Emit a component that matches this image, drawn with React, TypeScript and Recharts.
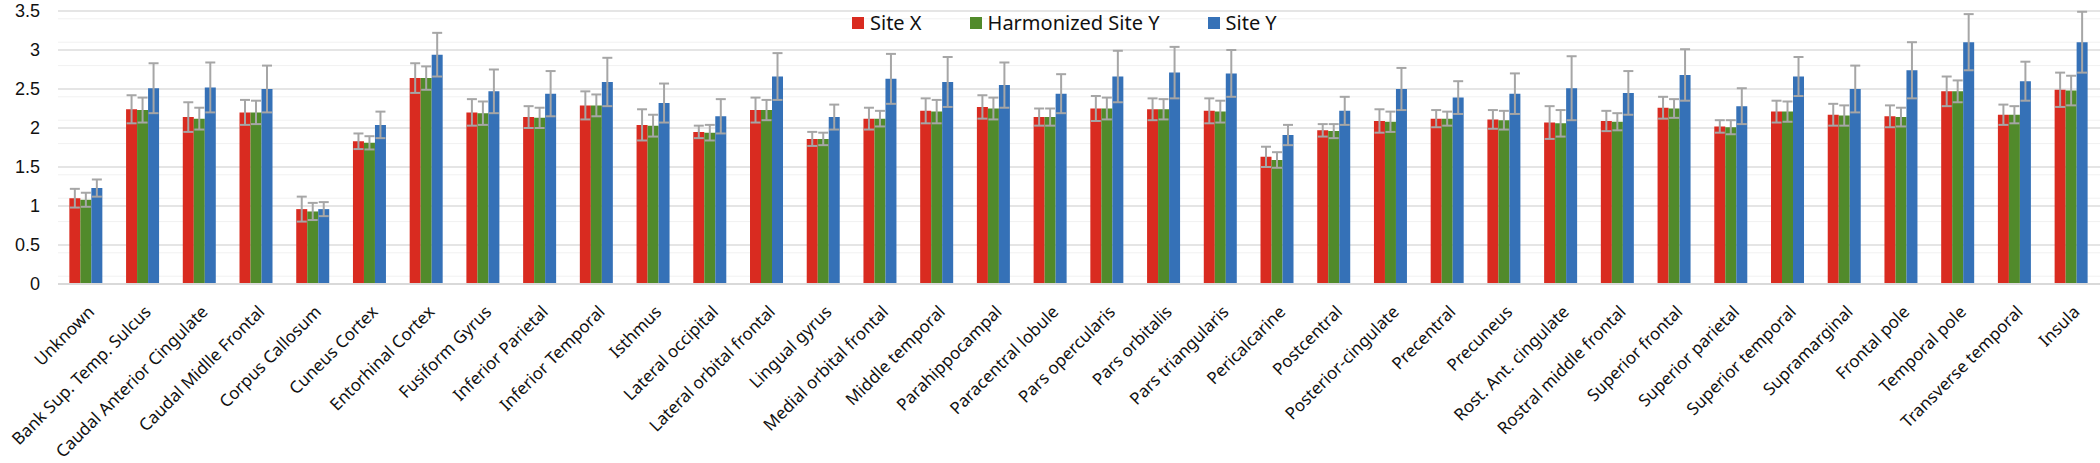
import { Bar, BarChart, CartesianGrid, ErrorBar, Legend, XAxis, YAxis } from "recharts";

const regions = [
  "Unknown",
  "Bank Sup. Temp. Sulcus",
  "Caudal Anterior Cingulate",
  "Caudal Midlle Frontal",
  "Corpus Callosum",
  "Cuneus Cortex",
  "Entorhinal Cortex",
  "Fusiform Gyrus",
  "Inferior Parietal",
  "Inferior Temporal",
  "Isthmus",
  "Lateral occipital",
  "Lateral orbital frontal",
  "Lingual gyrus",
  "Medial orbital frontal",
  "Middle temporal",
  "Parahippocampal",
  "Paracentral lobule",
  "Pars opercularis",
  "Pars orbitalis",
  "Pars triangularis",
  "Pericalcarine",
  "Postcentral",
  "Posterior-cingulate",
  "Precentral",
  "Precuneus",
  "Rost. Ant. cingulate",
  "Rostral middle frontal",
  "Superior frontal",
  "Superior parietal",
  "Superior temporal",
  "Supramarginal",
  "Frontal pole",
  "Temporal pole",
  "Transverse temporal",
  "Insula",
];

const siteX = [
  1.1, 2.24, 2.14, 2.2, 0.96, 1.83, 2.64, 2.2, 2.14, 2.29, 2.04, 1.95, 2.23, 1.86, 2.12, 2.22, 2.27, 2.14,
  2.25, 2.24, 2.22, 1.63, 1.97, 2.09, 2.12, 2.11, 2.07, 2.09, 2.26, 2.02, 2.21, 2.17, 2.15, 2.47, 2.17, 2.49,
];
const siteXErr = [
  0.12, 0.18, 0.19, 0.16, 0.16, 0.1, 0.19, 0.17, 0.14, 0.18, 0.2, 0.08, 0.16, 0.09, 0.14, 0.16, 0.15, 0.11,
  0.16, 0.14, 0.16, 0.13, 0.08, 0.15, 0.11, 0.12, 0.21, 0.13, 0.14, 0.08, 0.14, 0.14, 0.14, 0.19, 0.13, 0.22,
];

const harmonizedY = [
  1.08, 2.23, 2.12, 2.2, 0.93, 1.81, 2.64, 2.19, 2.13, 2.29, 2.03, 1.94, 2.23, 1.86, 2.12, 2.21, 2.25, 2.14,
  2.25, 2.24, 2.21, 1.59, 1.96, 2.08, 2.12, 2.1, 2.06, 2.08, 2.25, 2.01, 2.21, 2.16, 2.14, 2.47, 2.17, 2.48,
];
const harmonizedYErr = [
  0.09, 0.16, 0.14, 0.15, 0.11, 0.085, 0.15, 0.15, 0.13, 0.14, 0.14, 0.1, 0.13, 0.08, 0.1, 0.15, 0.14, 0.11,
  0.14, 0.13, 0.14, 0.1, 0.09, 0.13, 0.09, 0.12, 0.17, 0.11, 0.12, 0.09, 0.13, 0.13, 0.12, 0.14, 0.11, 0.19,
];

const siteY = [
  1.23, 2.51, 2.52, 2.5, 0.96, 2.04, 2.94, 2.47, 2.44, 2.59, 2.32, 2.15, 2.66, 2.14, 2.63, 2.59, 2.55, 2.44,
  2.66, 2.71, 2.7, 1.91, 2.22, 2.5, 2.39, 2.44, 2.51, 2.45, 2.68, 2.28, 2.66, 2.5, 2.74, 3.1, 2.6, 3.1,
];
const siteYErr = [
  0.11, 0.32, 0.32, 0.3, 0.09, 0.17, 0.28, 0.28, 0.29, 0.31, 0.25, 0.22, 0.3, 0.16, 0.32, 0.32, 0.29, 0.25,
  0.33, 0.33, 0.3, 0.13, 0.18, 0.27, 0.21, 0.26, 0.41, 0.28, 0.33, 0.23, 0.25, 0.3, 0.36, 0.36, 0.25, 0.39,
];

const yTicks = [0, 0.5, 1, 1.5, 2, 2.5, 3, 3.5];
const minorGrid = [
  0.1, 0.2, 0.3, 0.4, 0.6, 0.7, 0.8, 0.9, 1.1, 1.2, 1.3, 1.4, 1.6, 1.7, 1.8, 1.9, 2.1, 2.2, 2.3, 2.4, 2.6,
  2.7, 2.8, 2.9, 3.1, 3.2, 3.3, 3.4,
];

const series = [
  { key: "siteX", err: "siteXErr", name: "Site X", color: "#d92b20" },
  { key: "harmonizedY", err: "harmonizedYErr", name: "Harmonized Site Y", color: "#518a2b" },
  { key: "siteY", err: "siteYErr", name: "Site Y", color: "#3571b7" },
];

const chartData = regions.map((region, i) => ({
  region,
  siteX: siteX[i],
  siteXErr: siteXErr[i],
  harmonizedY: harmonizedY[i],
  harmonizedYErr: harmonizedYErr[i],
  siteY: siteY[i],
  siteYErr: siteYErr[i],
}));

const font = "'Noto Sans', 'Open Sans', sans-serif";

function RegionTick({ x, y, payload }: any) {
  return (
    <g transform={`translate(${x + 9},${y + 21})`}>
      <text
        transform="rotate(-45)"
        textAnchor="end"
        fill="#111"
        fontSize={17}
        fontFamily={font}
      >
        {payload.value}
      </text>
    </g>
  );
}

function SiteLegend() {
  return (
    <div style={{ display: "flex", alignItems: "center", fontFamily: font, fontSize: 20, color: "#111" }}>
      {series.map((s) => (
        <span key={s.key} style={{ display: "flex", alignItems: "center", marginRight: 48 }}>
          <span style={{ width: 12, height: 12, background: s.color, marginRight: 6 }} />
          {s.name}
        </span>
      ))}
    </div>
  );
}

export default function App() {
  return (
    <div style={{ width: 2100, height: 463, background: "#fff" }}>
      <style>{`body { margin: 0; }`}</style>
      <BarChart
        width={2100}
        height={463}
        data={chartData}
        margin={{ top: 11, right: 0, left: 0, bottom: 0 }}
        barCategoryGap="20%"
        barGap={0}
      >
        <CartesianGrid vertical={false} horizontalValues={minorGrid} stroke="#f1f1f1" />
        <CartesianGrid vertical={false} horizontalValues={yTicks} stroke="#dcdcdc" strokeWidth={1.5} />
        <XAxis
          dataKey="region"
          interval={0}
          height={179}
          tickLine={false}
          axisLine={{ stroke: "#d9d9d9", strokeWidth: 2 }}
          tick={<RegionTick />}
        />
        <YAxis
          domain={[0, 3.5]}
          ticks={yTicks}
          width={58}
          axisLine={false}
          tickLine={false}
          tickMargin={12}
          tick={{ fill: "#111", fontSize: 18, fontFamily: "'Liberation Sans', Arial, sans-serif" }}
        />
        <Legend
          layout="horizontal"
          verticalAlign="middle"
          align="center"
          wrapperStyle={{ top: 9, left: 852, width: "auto" }}
          content={<SiteLegend />}
        />
        {series.map((s) => (
          <Bar key={s.key} dataKey={s.key} name={s.name} fill={s.color} isAnimationActive={false}>
            <ErrorBar dataKey={s.err} stroke="#a6a6a6" strokeWidth={2} width={5} />
          </Bar>
        ))}
      </BarChart>
    </div>
  );
}
